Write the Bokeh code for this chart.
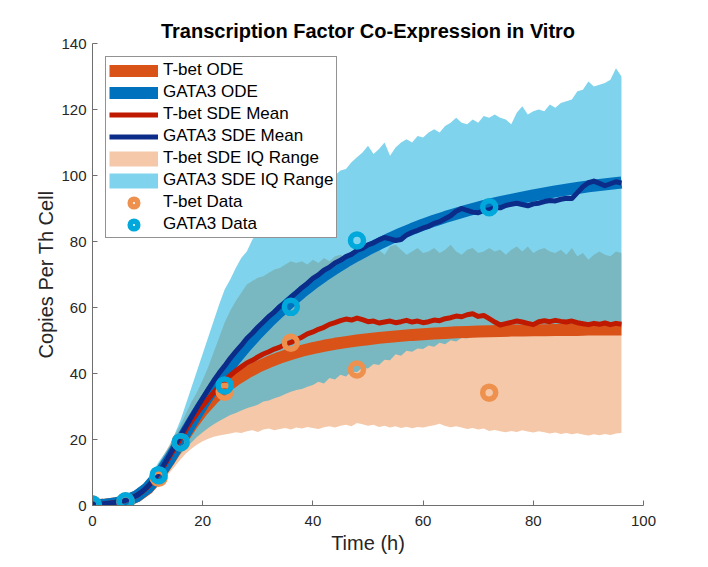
from bokeh.plotting import figure
from bokeh.models import Range1d, Legend, LegendItem, FixedTicker
from bokeh.embed import file_html
from bokeh.resources import INLINE

# ---------------- data ----------------
x_ticks = [0, 20, 40, 60, 80, 100]
y_ticks = [0, 20, 40, 60, 80, 100, 120, 140]

t_ode = list(range(0, 97, 2))
tbet_ode = [0.0, 0.2, 0.6, 1.3, 2.7, 5.1, 8.9, 13.9, 19.3, 24.4, 28.9, 32.6, 35.6, 38.1, 40.2, 42.0,
            43.5, 44.8, 45.9, 46.9, 47.7, 48.4, 49.0, 49.5, 50.0, 50.4, 50.8, 51.1, 51.4, 51.7, 51.9,
            52.1, 52.3, 52.5, 52.6, 52.7, 52.8, 52.9, 53.0, 53.0, 53.1, 53.1, 53.2, 53.2, 53.2, 53.3,
            53.3, 53.3, 53.3]
gata3_ode = [0.0, 0.2, 0.6, 1.4, 2.8, 5.3, 9.2, 14.0, 19.6, 25.2, 30.6, 35.6, 40.2, 44.5, 48.5, 52.2,
             55.6, 58.8, 61.8, 64.6, 67.2, 69.6, 71.8, 73.9, 75.8, 77.6, 79.3, 80.9, 82.4, 83.8, 85.1,
             86.3, 87.4, 88.4, 89.4, 90.3, 91.2, 91.9, 92.6, 93.3, 94.0, 94.6, 95.2, 95.7, 96.2, 96.7,
             97.1, 97.5, 97.9]

t_sde = list(range(0, 97))
tbet_mean = [0.3, 0.4, 0.5, 0.7, 0.9, 1.2, 1.6, 2.2, 3.0, 4.1,
             5.6, 7.4, 9.6, 12.1, 14.8, 17.6, 20.3, 23.0, 25.6, 28.0,
             30.2, 32.3, 34.3, 36.2, 37.9, 39.4, 40.8, 42.0, 43.2, 44.0,
             45.0, 45.9, 46.6, 47.4, 48.0, 48.9, 49.4, 50.3, 51.0, 52.0,
             52.6, 53.4, 54.0, 54.9, 55.4, 56.0, 56.5, 56.2, 56.8, 56.3,
             55.7, 55.9, 55.3, 55.6, 55.9, 55.4, 55.7, 56.1, 55.6, 55.9,
             55.4, 55.7, 56.2, 56.0, 56.6, 56.9, 57.4, 57.2, 57.8, 58.1,
             57.3, 57.6, 56.6, 55.6, 54.7, 55.1, 55.5, 55.9, 55.6, 55.2,
             54.8, 55.7, 56.0, 55.7, 56.1, 55.8, 55.6, 55.9, 55.4, 55.1,
             54.8, 55.2, 54.9, 55.3, 54.8, 55.2, 54.9]
gata3_mean = [0.3, 0.4, 0.5, 0.7, 0.9, 1.2, 1.6, 2.2, 3.0, 4.2,
              5.7, 7.6, 9.9, 12.5, 15.3, 18.3, 21.2, 24.1, 27.0, 29.8,
              32.5, 35.2, 37.8, 40.2, 42.3, 44.6, 46.6, 48.5, 50.6, 52.2,
              54.0, 55.6, 57.3, 58.6, 60.3, 61.5, 63.1, 64.5, 66.0, 67.3,
              68.8, 69.9, 71.3, 72.2, 73.5, 74.3, 75.4, 76.1, 77.3, 77.9,
              79.0, 79.6, 80.5, 81.2, 80.8, 80.3, 80.6, 82.0, 82.8, 83.4,
              84.1, 84.6, 85.5, 86.0, 86.9, 87.8, 89.2, 90.0, 89.4, 88.9,
              88.7, 89.4, 89.6, 90.3, 90.2, 90.9, 91.3, 91.6, 91.2, 90.8,
              91.4, 91.6, 92.1, 92.4, 92.3, 92.8, 93.1, 93.0, 94.8, 96.6,
              97.8, 98.3, 97.6, 96.9, 97.5, 98.1, 97.7]

tbet_iq_low = [0.0, 0.1, 0.2, 0.3, 0.4, 0.6, 0.9, 1.3, 1.8, 2.5,
               3.5, 4.8, 6.3, 8.0, 10.0, 12.0, 14.0, 15.8, 17.3, 18.5,
               19.5, 20.2, 20.8, 21.2, 21.5, 21.8, 22.2, 22.0, 22.5, 22.8,
               22.3, 23.0, 23.3, 22.8, 23.2, 23.5, 23.0, 23.6, 23.3, 23.8,
               23.5, 23.2, 23.7, 24.0, 23.6, 24.2, 24.5, 24.0, 25.0, 24.6,
               24.2, 24.5, 23.8, 24.2, 23.6, 24.0, 23.5, 23.9, 23.4, 23.8,
               23.6, 24.0, 24.3, 24.8, 24.1, 23.7, 24.0, 23.6, 23.2, 23.5,
               23.0, 23.3, 22.6, 22.9, 22.5, 22.2, 22.6, 22.3, 22.8, 22.4,
               22.1, 22.5, 22.2, 21.8, 22.1, 21.7, 22.0, 21.6, 21.9, 21.5,
               21.2, 21.6, 21.3, 21.7, 21.4, 21.8, 22.0]
tbet_iq_high = [0.4, 0.6, 0.8, 1.0, 1.4, 1.9, 2.5, 3.3, 4.3, 5.7,
                7.5, 9.8, 12.5, 15.5, 18.5, 21.5, 24.5, 28.0, 31.5, 34.5,
                38.0, 42.0, 46.5, 51.0, 55.5, 59.0, 62.0, 64.5, 67.0, 68.0,
                69.0, 69.5, 70.5, 71.5, 72.0, 73.0, 74.0, 73.5, 74.0, 73.0,
                74.5, 73.5, 75.0, 74.0, 75.5, 76.0, 75.0, 76.5, 76.0, 77.0,
                75.5, 76.5, 77.5, 76.0, 78.5, 79.0, 77.5, 76.0, 77.0, 78.0,
                76.5, 77.0, 78.0, 76.5, 77.5, 79.0, 77.0, 76.0, 77.5, 78.0,
                76.5, 77.0, 78.0, 77.0, 77.5, 76.0, 77.5, 78.5, 77.0, 78.5,
                76.5, 77.5, 78.0, 77.0, 76.5, 77.5, 76.0, 78.0, 75.5, 76.5,
                74.5, 76.0, 77.0, 76.0, 75.5, 77.0, 76.5]
gata3_iq_low = [0.0, 0.1, 0.2, 0.3, 0.5, 0.7, 1.0, 1.4, 2.0, 2.8,
                3.9, 5.3, 7.0, 9.0, 11.2, 13.5, 15.6, 17.5, 19.2, 20.8,
                22.2, 23.5, 24.6, 25.6, 26.5, 27.4, 28.0, 28.8, 29.5, 30.0,
                30.5, 31.5, 31.8, 32.5, 33.0, 33.8, 34.5, 35.0, 35.3, 36.0,
                36.5, 37.5, 37.0, 38.6, 38.2, 39.6, 39.1, 40.7, 40.4, 41.8,
                41.5, 42.9, 42.6, 44.2, 44.0, 45.8, 45.4, 46.9, 46.6, 47.6,
                47.4, 48.5, 48.1, 49.3, 48.9, 50.1, 49.7, 50.8, 50.6, 51.4,
                51.5, 51.5, 51.2, 51.8, 52.0, 51.7, 52.2, 52.5, 52.2, 52.6,
                52.8, 52.5, 52.8, 53.0, 52.6, 53.0, 53.2, 53.0, 53.4, 53.2,
                53.5, 53.3, 53.6, 53.4, 53.6, 53.5, 53.7]
gata3_iq_high = [0.4, 0.6, 0.8, 1.1, 1.5, 2.0, 2.6, 3.4, 4.5, 6.0,
                 7.9, 10.3, 13.2, 15.5, 18.0, 22.0, 26.0, 31.0, 36.0, 41.0,
                 46.0, 51.0, 56.0, 61.0, 65.5, 68.5, 72.0, 75.0, 77.0, 80.5,
                 83.0, 85.0, 87.0, 88.0, 90.0, 91.0, 92.5, 93.0, 95.0, 96.0,
                 97.0, 98.0, 98.5, 99.5, 100.0, 101.5, 102.0, 104.0, 105.5, 107.0,
                 109.0, 106.5, 108.0, 110.0, 106.0, 108.5, 110.0, 111.0, 110.0, 112.0,
                 111.5, 113.0, 114.0, 113.0, 115.0, 116.0, 117.5, 116.0, 115.5, 117.0,
                 116.0, 118.0, 117.5, 118.5, 117.5, 117.0, 115.5, 119.0, 121.0, 118.5,
                 119.5, 120.0, 119.5, 121.5, 120.5, 122.0, 122.5, 123.0, 125.5, 126.0,
                 128.5, 127.0, 127.5, 128.0, 129.0, 132.5, 130.0]

t_data = [0, 6, 12, 16, 24, 36, 48, 72]
tbet_data = [0.3, 1.2, 8.4, 19.2, 34.5, 49.3, 41.2, 34.2]
gata3_data = [0.3, 1.3, 9.2, 19.2, 36.4, 60.2, 80.3, 90.4]

# ---------------- styles ----------------
FONT = "Liberation Sans"
C_TBET_ODE = "#D95319"
C_GATA_ODE = "#0072BD"
C_TBET_MEAN = "#BF1A00"
C_GATA_MEAN = "#0C2C8A"
C_TBET_IQ = "#EA9151"
C_GATA_IQ = "#00A7D9"
C_TBET_DATA = "#EE914F"
C_GATA_DATA = "#00A8DC"
NAN = float("nan")

p = figure(frame_width=551, frame_height=462,
           x_range=Range1d(0, 100), y_range=Range1d(0, 140),
           output_backend="svg", toolbar_location=None,
           min_border_left=92, min_border_right=57, min_border_top=43, min_border_bottom=54,
           background_fill_color="white", border_fill_color="white")
p.outline_line_color = None
p.grid.visible = False

p.title.text = "Transcription Factor Co-Expression in Vitro"
p.title.align = "center"
p.title.text_font = FONT
p.title.text_font_size = "20px"
p.title.text_font_style = "bold"
p.title.text_color = "black"
p.title.standoff = 4

p.xaxis.ticker = FixedTicker(ticks=x_ticks)
p.yaxis.ticker = FixedTicker(ticks=y_ticks)
p.xaxis.axis_label = "Time (h)"
p.yaxis.axis_label = "Copies Per Th Cell"
for ax in (p.xaxis[0], p.yaxis[0]):
    ax.axis_line_color = "#6e6e6e"
    ax.axis_line_width = 1
    ax.major_tick_line_color = "#6e6e6e"
    ax.major_tick_in = 5
    ax.major_tick_out = 0
    ax.minor_tick_line_color = None
    ax.major_label_text_font = FONT
    ax.major_label_text_font_size = "15px"
    ax.major_label_text_color = "#262626"
    ax.axis_label_text_font = FONT
    ax.axis_label_text_font_size = "20px"
    ax.axis_label_text_font_style = "normal"
    ax.axis_label_text_color = "#262626"
p.xaxis.major_label_standoff = 10
p.yaxis.major_label_standoff = 6
p.xaxis.axis_label_standoff = 3
p.yaxis.axis_label_standoff = 1

# IQ ranges
p.varea(x=t_sde, y1=tbet_iq_low, y2=tbet_iq_high, fill_color=C_TBET_IQ, fill_alpha=0.5)
p.varea(x=t_sde, y1=gata3_iq_low, y2=gata3_iq_high, fill_color=C_GATA_IQ, fill_alpha=0.5)

# ODE solutions
r_tode = p.line(t_ode, tbet_ode, line_color=C_TBET_ODE, line_width=12, line_join="round")
r_gode = p.line(t_ode, gata3_ode, line_color=C_GATA_ODE, line_width=12, line_join="round")

# SDE means
r_tmean = p.line(t_sde, tbet_mean, line_color=C_TBET_MEAN, line_width=5, line_join="round")
r_gmean = p.line(t_sde, gata3_mean, line_color=C_GATA_MEAN, line_width=5, line_join="round")

# data
r_tdata = p.scatter(t_data, tbet_data, marker="circle", size=13, fill_color=None,
                    line_color=C_TBET_DATA, line_width=5.5)
r_gdata = p.scatter(t_data, gata3_data, marker="circle", size=13, fill_color=None,
                    line_color=C_GATA_DATA, line_width=5.5)

# legend swatches for the IQ ranges (same colour/alpha as the areas; nothing drawn in the plot)
r_tiq_sw = p.line(x=[NAN], y=[NAN], line_color=C_TBET_IQ, line_alpha=0.5, line_width=15)
r_giq_sw = p.line(x=[NAN], y=[NAN], line_color=C_GATA_IQ, line_alpha=0.5, line_width=15)

legend = Legend(items=[
    LegendItem(label="T-bet ODE", renderers=[r_tode]),
    LegendItem(label="GATA3 ODE", renderers=[r_gode]),
    LegendItem(label="T-bet SDE Mean", renderers=[r_tmean]),
    LegendItem(label="GATA3 SDE Mean", renderers=[r_gmean]),
    LegendItem(label="T-bet SDE IQ Range", renderers=[r_tiq_sw]),
    LegendItem(label="GATA3 SDE IQ Range", renderers=[r_giq_sw]),
    LegendItem(label="T-bet Data", renderers=[r_tdata]),
    LegendItem(label="GATA3 Data", renderers=[r_gdata]),
], location="top_left", margin=13, padding=3, spacing=2,
    label_height=19, glyph_height=19, glyph_width=49, label_standoff=5,
    label_text_font=FONT, label_text_font_size="17px", label_text_color="black",
    border_line_color="#262626", border_line_width=1,
    background_fill_color="white", background_fill_alpha=1.0)
p.add_layout(legend)

open("out.html", "w").write(file_html(p, INLINE))
